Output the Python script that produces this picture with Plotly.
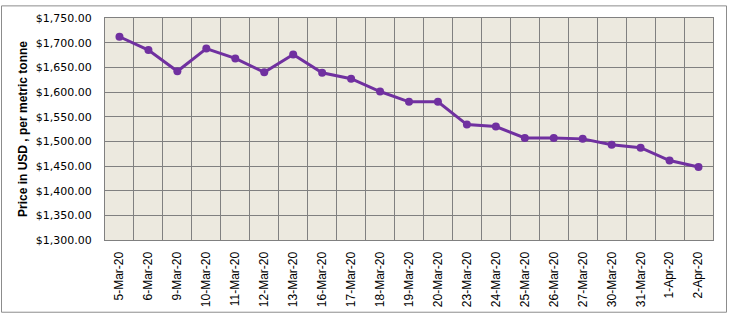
import plotly.graph_objects as go

dates = ["5-Mar-20", "6-Mar-20", "9-Mar-20", "10-Mar-20", "11-Mar-20", "12-Mar-20",
         "13-Mar-20", "16-Mar-20", "17-Mar-20", "18-Mar-20", "19-Mar-20", "20-Mar-20",
         "23-Mar-20", "24-Mar-20", "25-Mar-20", "26-Mar-20", "27-Mar-20", "30-Mar-20",
         "31-Mar-20", "1-Apr-20", "2-Apr-20"]
prices = [1712, 1685, 1642, 1688, 1668, 1640, 1676, 1639, 1627, 1601, 1580, 1580,
          1534, 1530, 1507, 1507, 1505, 1493, 1487, 1461, 1448]

W, H = 729, 319
L, R, T, B = 105, 16, 14, 76

fig = go.Figure()
fig.add_trace(go.Scatter(
    x=dates, y=prices, mode="lines+markers",
    line=dict(color="#7030A0", width=3),
    marker=dict(color="#7030A0", size=8),
    showlegend=False,
))

pw = W - L - R
ph = H - T - B
fig.add_shape(type="rect", xref="paper", yref="paper",
              x0=(-L + 1.5) / pw, x1=(pw + R - 2.5) / pw,
              y0=(-B + 1.5) / ph, y1=(ph + T - 1.5) / ph,
              line=dict(color="#8c8c8c", width=1), layer="below")

fig.update_layout(
    width=W, height=H,
    margin=dict(l=L, r=R, t=T, b=B, pad=0),
    paper_bgcolor="white",
    plot_bgcolor="#ECE9DF",
    font=dict(family="DejaVu Sans", size=11, color="black"),
    xaxis=dict(
        type="category", tickson="boundaries", range=[-0.5, len(dates) - 0.5],
        showgrid=True, gridcolor="#808080", gridwidth=1,
        tickangle=-90, ticks="", ticklabelstandoff=6,
        tickfont=dict(family="Liberation Sans", size=12, color="black"),
        showline=True, linecolor="#808080", mirror=True,
    ),
    yaxis=dict(
        range=[1300, 1750], dtick=50, tickformat="$,.2f",
        showgrid=True, gridcolor="#808080", gridwidth=1,
        ticks="", ticklabelstandoff=10,
        tickfont=dict(family="DejaVu Sans", size=11, color="black"),
        showline=True, linecolor="#808080", mirror=True, zeroline=False,
        title=dict(text="<b>Price in USD , per metric tonne</b>",
                   font=dict(family="Liberation Sans", size=12, color="black"),
                   standoff=5),
    ),
)

fig.write_html("out.html")
